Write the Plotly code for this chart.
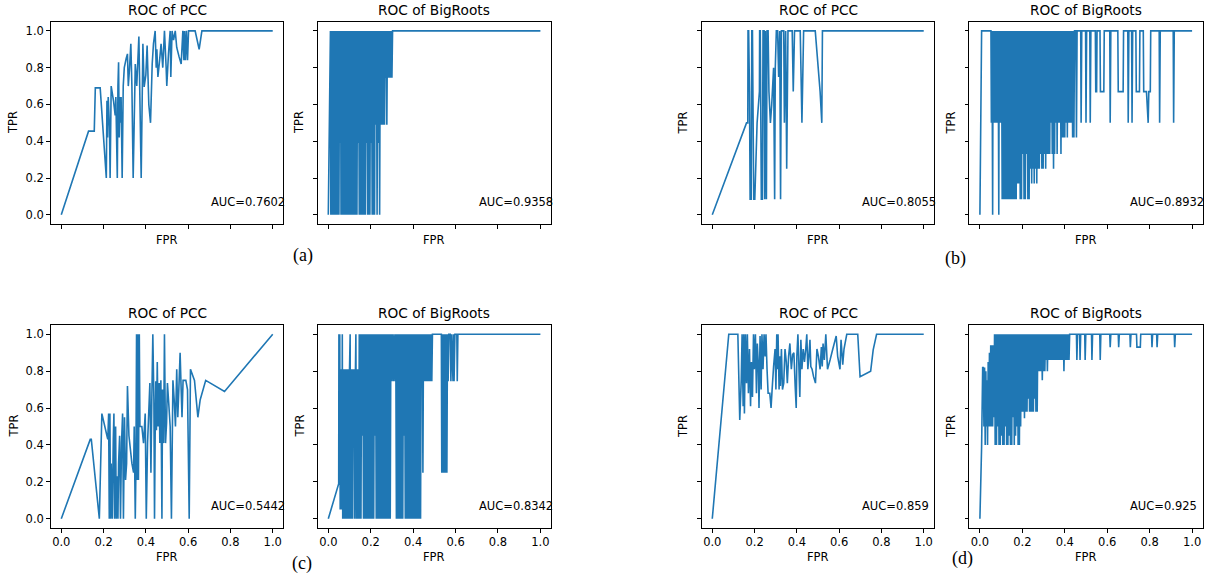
import plotly.graph_objects as go

# ---------------- text content ----------------
PANEL_TITLES = ["ROC of PCC", "ROC of BigRoots", "ROC of PCC", "ROC of BigRoots",
                "ROC of PCC", "ROC of BigRoots", "ROC of PCC", "ROC of BigRoots"]
AUC_LABELS = ["AUC=0.7602", "AUC=0.9358", "AUC=0.8055", "AUC=0.8932",
              "AUC=0.5442", "AUC=0.8342", "AUC=0.859", "AUC=0.925"]
PANEL_TAGS = ["(a)", "(b)", "(c)", "(d)"]
TICKS = [0.0, 0.2, 0.4, 0.6, 0.8, 1.0]

# ---------------- (a) ----------------
A_PCC_FPR = [0, 0.129, 0.156, 0.161, 0.184, 0.213, 0.216, 0.219, 0.222, 0.228,
             0.231, 0.236, 0.247, 0.255, 0.258, 0.265, 0.268, 0.271, 0.274, 0.277,
             0.280, 0.283, 0.288, 0.293, 0.298, 0.307, 0.313, 0.317, 0.323, 0.329,
             0.334, 0.340, 0.350, 0.357, 0.367, 0.378, 0.386, 0.392, 0.400, 0.406,
             0.414, 0.422, 0.430, 0.436, 0.444, 0.449, 0.452, 0.457, 0.465, 0.472,
             0.480, 0.488, 0.496, 0.499, 0.507, 0.515, 0.518, 0.524, 0.531, 0.539,
             0.546, 0.557, 0.567, 0.575, 0.580, 0.583, 0.587, 0.592, 0.597, 0.602,
             0.633, 0.652, 0.665, 1.0]
A_PCC_TPR = [0, 0.455, 0.455, 0.69, 0.69, 0.20, 0.62, 0.42, 0.64, 0.48,
             0.20, 0.70, 0.62, 0.54, 0.64, 0.20, 0.70, 0.83, 0.42, 0.64,
             0.50, 0.64, 0.20, 0.70, 0.80, 0.85, 0.875, 0.70, 0.80, 0.93,
             0.70, 0.20, 0.82, 0.70, 0.97, 0.20, 0.93, 0.695, 0.76, 0.92,
             0.60, 0.50, 0.82, 0.93, 1.0, 0.80, 0.90, 0.75, 0.84, 0.93,
             0.80, 1.0, 0.80, 0.70, 0.875, 1.0, 0.75, 1.0, 0.95, 1.0,
             0.91, 0.86, 0.82, 1.0, 0.84, 1.0, 0.84, 1.0, 0.84, 1.0,
             1.0, 0.90, 1.0, 1.0]

A_BR_FPR = [0, 0.010, 0.012, 0.015, 0.017, 0.021, 0.023, 0.026, 0.028, 0.031,
            0.034, 0.036, 0.039, 0.041, 0.045, 0.047, 0.050, 0.053, 0.055, 0.058,
            0.060, 0.063, 0.066, 0.068, 0.071, 0.074, 0.076, 0.079, 0.082, 0.084,
            0.087, 0.090, 0.092, 0.095, 0.098, 0.100, 0.103, 0.106, 0.108, 0.111,
            0.114, 0.116, 0.119, 0.122, 0.124, 0.127, 0.130, 0.132, 0.135, 0.138,
            0.141, 0.143, 0.146, 0.149, 0.152, 0.154, 0.157, 0.160, 0.163, 0.165,
            0.168, 0.171, 0.174, 0.177, 0.179, 0.182, 0.185, 0.188, 0.190, 0.193,
            0.196, 0.199, 0.201, 0.204, 0.207, 0.210, 0.212, 0.215, 0.218, 0.221,
            0.224, 0.227, 0.230, 0.233, 0.236, 0.239, 0.242, 0.245, 0.247, 0.250,
            0.253, 0.256, 0.259, 0.262, 0.265, 0.268, 0.270, 0.273, 0.276, 0.279,
            0.282, 0.285, 0.288, 0.291, 0.294, 0.297, 0.300, 0.303, 1.0]
A_BR_TPR = [0, 1, 0, 1, 0, 1, 0, 1, 0, 1,
            0, 1, 0, 1, 0, 1, 0, 1, 0.39, 1,
            0, 1, 0, 1, 0, 1, 0, 1, 0, 1,
            0, 1, 0, 1, 0, 1, 0, 1, 0, 1,
            0, 1, 0, 1, 0, 1, 0, 1, 0, 1,
            0.39, 1, 0, 1, 0, 1, 0, 1, 0, 1,
            0, 1, 0, 1, 0.39, 1, 0, 1, 0, 1,
            0, 1, 0.39, 1, 0, 1, 0, 1, 0, 1,
            0.49, 1, 0, 1, 0.39, 1, 0, 1, 0.49, 1,
            0.49, 1, 0.49, 1, 0.49, 1, 0.745, 1, 0.49, 1,
            0.745, 1, 0.745, 1, 0.745, 1, 0.745, 1, 1]

# ---------------- (b) ----------------
B_PCC_FPR = [0, 0.162, 0.168, 0.169, 0.172, 0.176, 0.179, 0.184, 0.187, 0.190,
             0.196, 0.201, 0.212, 0.223, 0.224, 0.227, 0.232, 0.237, 0.240, 0.245,
             0.248, 0.251, 0.256, 0.259, 0.264, 0.268, 0.275, 0.281, 0.290, 0.295,
             0.298, 0.303, 0.309, 0.314, 0.319, 0.323, 0.327, 0.338, 0.341, 0.347,
             0.352, 0.358, 0.378, 0.383, 0.389, 0.416, 0.424, 0.432, 0.487, 0.510,
             0.518, 0.521, 1.0]
B_PCC_TPR = [0, 0.50, 0.50, 1.0, 1.0, 0.67, 0.085, 0.085, 1.0, 1.0,
             0.085, 0.085, 0.50, 0.67, 1.0, 1.0, 0.085, 0.085, 1.0, 1.0,
             0.085, 1.0, 0.085, 1.0, 1.0, 0.67, 0.50, 0.596, 0.80, 0.085,
             0.80, 1.0, 1.0, 0.75, 1.0, 0.085, 1.0, 1.0, 0.50, 1.0,
             0.25, 1.0, 1.0, 0.67, 1.0, 1.0, 0.50, 1.0, 1.0, 0.67,
             0.50, 1.0, 1.0]

B_BR_FPR = [0, 0.008, 0.052, 0.054, 0.057, 0.060, 0.062, 0.065, 0.068, 0.071,
            0.074, 0.077, 0.080, 0.083, 0.086, 0.089, 0.091, 0.094, 0.097, 0.100,
            0.102, 0.105, 0.108, 0.111, 0.114, 0.117, 0.120, 0.123, 0.126, 0.129,
            0.132, 0.135, 0.138, 0.141, 0.144, 0.147, 0.150, 0.153, 0.156, 0.159,
            0.162, 0.165, 0.168, 0.171, 0.174, 0.178, 0.181, 0.184, 0.187, 0.190,
            0.193, 0.196, 0.199, 0.202, 0.205, 0.208, 0.211, 0.214, 0.217, 0.220,
            0.223, 0.226, 0.229, 0.232, 0.235, 0.238, 0.241, 0.244, 0.247, 0.250,
            0.253, 0.256, 0.259, 0.262, 0.265, 0.268, 0.271, 0.274, 0.277, 0.280,
            0.283, 0.286, 0.289, 0.292, 0.295, 0.298, 0.301, 0.304, 0.307, 0.310,
            0.313, 0.317, 0.320, 0.323, 0.326, 0.329, 0.332, 0.335, 0.338, 0.341,
            0.344, 0.347, 0.350, 0.352, 0.355, 0.358, 0.361, 0.364, 0.367, 0.370,
            0.373, 0.376, 0.379, 0.382, 0.385, 0.388, 0.391, 0.394, 0.397, 0.400,
            0.403, 0.406, 0.409, 0.412, 0.415, 0.418, 0.421, 0.424, 0.428, 0.431,
            0.434, 0.437, 0.440, 0.443, 0.446, 0.452, 0.455, 0.458, 0.475, 0.477,
            0.480, 0.498, 0.500, 0.503, 0.518, 0.520, 0.523, 0.544, 0.546, 0.550,
            0.552, 0.566, 0.568, 0.584, 0.586, 0.612, 0.614, 0.617, 0.650, 0.652,
            0.675, 0.677, 0.697, 0.699, 0.702, 0.715, 0.717, 0.720, 0.735, 0.737,
            0.752, 0.754, 0.770, 0.772, 0.785, 0.793, 0.796, 0.803, 0.805, 0.845,
            0.847, 0.850, 0.911, 0.913, 0.916, 1.0]
B_BR_TPR = [0, 1, 1, 0.5, 1, 0, 1, 0.5, 1, 0.5,
            1, 0.5, 1, 0.5, 1, 0, 1, 0.5, 1, 0.5,
            1, 0.085, 1, 0.085, 1, 0.085, 1, 0.085, 1, 0.085,
            1, 0.085, 1, 0.085, 1, 0.085, 1, 0.085, 1, 0.085,
            1, 0.085, 1, 0.085, 1, 0.17, 1, 0.17, 1, 0.085,
            1, 0.085, 1, 0.33, 1, 0.085, 1, 0.085, 1, 0.33,
            1, 0.085, 1, 0.085, 1, 0.25, 1, 0.17, 1, 0.25,
            1, 0.17, 1, 0.25, 1, 0.17, 1, 0.25, 1, 0.25,
            1, 0.33, 1, 0.25, 1, 0.25, 1, 0.33, 1, 0.25,
            1, 0.33, 1, 0.33, 1, 0.33, 1, 0.5, 1, 0.33,
            1, 0.25, 1, 0.33, 1, 0.5, 1, 0.33, 1, 0.5,
            1, 0.5, 1, 0.33, 1, 0.42, 1, 0.42, 1, 0.42,
            1, 0.5, 1, 0.42, 1, 0.5, 1, 0.5, 1, 0.5,
            1, 0.42, 1, 0.42, 1, 1, 0.42, 1, 1, 0.5,
            1, 1, 0.5, 1, 1, 0.5, 1, 1, 0.67, 0.67,
            1, 1, 0.67, 0.67, 1, 1, 0.5, 1, 1, 0.67,
            0.67, 1, 1, 0.5, 1, 1, 0.5, 1, 1, 0.67,
            0.67, 1, 1, 0.67, 0.67, 0.5, 0.67, 0.67, 1, 1,
            0.5, 1, 1, 0.5, 1, 1]

# ---------------- (c) ----------------
C_PCC_FPR = [0, 0.137, 0.142, 0.180, 0.192, 0.216, 0.220, 0.224, 0.227, 0.230,
             0.233, 0.236, 0.241, 0.246, 0.249, 0.252, 0.257, 0.260, 0.263, 0.268,
             0.271, 0.276, 0.280, 0.285, 0.290, 0.294, 0.299, 0.304, 0.309, 0.313,
             0.320, 0.334, 0.342, 0.345, 0.350, 0.353, 0.356, 0.359, 0.362, 0.365,
             0.369, 0.372, 0.381, 0.389, 0.397, 0.402, 0.408, 0.416, 0.419, 0.424,
             0.428, 0.433, 0.438, 0.441, 0.444, 0.447, 0.450, 0.454, 0.458, 0.463,
             0.466, 0.471, 0.476, 0.479, 0.484, 0.488, 0.493, 0.498, 0.502, 0.508,
             0.515, 0.521, 0.528, 0.534, 0.540, 0.546, 0.551, 0.556, 0.562, 0.567,
             0.571, 0.576, 0.589, 0.597, 0.605, 0.611, 0.630, 0.646, 0.657, 0.683,
             0.772, 1.0]
C_PCC_TPR = [0, 0.43, 0.43, 0.0, 0.57, 0.45, 0.43, 0.57, 0.0, 0.57,
             0.0, 0.30, 0.0, 0.43, 0.57, 0.0, 0.50, 0.0, 0.23, 0.0,
             0.30, 0.45, 0.0, 0.41, 0.57, 0.0, 0.55, 0.21, 0.30, 0.72,
             0.45, 0.30, 0.25, 0.50, 0.0, 0.27, 1.0, 0.21, 1.0, 0.21,
             1.0, 0.50, 0.50, 0.41, 0.57, 0.0, 0.41, 0.645, 0.735, 0.25,
             0.63, 1.0, 0.645, 0.0, 0.45, 0.745, 0.48, 0.85, 0.50, 0.735,
             0.41, 0.75, 0.0, 0.70, 0.41, 1.0, 0.41, 0.52, 0.735, 0.63,
             0.50, 0.0, 0.75, 0.645, 0.50, 0.81, 0.55, 0.70, 0.90, 0.70,
             0.55, 0.75, 0.75, 0.70, 0.0, 0.81, 0.75, 0.55, 0.645, 0.75,
             0.69, 1.0]

C_BR_FPR = [0, 0.049, 0.050, 0.052, 0.054, 0.056, 0.058, 0.060, 0.062, 0.064,
            0.066, 0.068, 0.070, 0.073, 0.075, 0.078, 0.080, 0.083, 0.085, 0.088,
            0.090, 0.093, 0.095, 0.098, 0.100, 0.103, 0.105, 0.108, 0.110, 0.113,
            0.115, 0.118, 0.120, 0.123, 0.125, 0.128, 0.130, 0.133, 0.135, 0.138,
            0.140, 0.143, 0.146, 0.148, 0.151, 0.154, 0.157, 0.160, 0.163, 0.166,
            0.169, 0.172, 0.175, 0.178, 0.181, 0.184, 0.187, 0.190, 0.193, 0.196,
            0.199, 0.202, 0.205, 0.208, 0.211, 0.214, 0.217, 0.220, 0.223, 0.226,
            0.229, 0.232, 0.235, 0.238, 0.241, 0.244, 0.247, 0.250, 0.253, 0.256,
            0.259, 0.262, 0.265, 0.268, 0.271, 0.274, 0.277, 0.280, 0.283, 0.286,
            0.289, 0.292, 0.295, 0.298, 0.302, 0.306, 0.310, 0.314, 0.318, 0.321,
            0.324, 0.327, 0.330, 0.333, 0.336, 0.339, 0.342, 0.345, 0.348, 0.351,
            0.354, 0.357, 0.360, 0.363, 0.366, 0.369, 0.372, 0.375, 0.378, 0.381,
            0.384, 0.387, 0.390, 0.393, 0.396, 0.399, 0.402, 0.405, 0.408, 0.411,
            0.414, 0.417, 0.420, 0.423, 0.426, 0.429, 0.432, 0.435, 0.438, 0.441,
            0.444, 0.446, 0.449, 0.452, 0.455, 0.458, 0.461, 0.464, 0.467, 0.470,
            0.473, 0.476, 0.479, 0.482, 0.485, 0.488, 0.491, 0.533, 0.535, 0.538,
            0.541, 0.544, 0.547, 0.550, 0.553, 0.556, 0.559, 0.562, 0.565, 0.568,
            0.575, 0.578, 0.581, 0.588, 0.590, 0.593, 0.597, 0.606, 0.608, 0.611,
            1.0]
C_BR_TPR = [0, 0.19, 1, 0.19, 1, 0.05, 0.81, 0.05, 0.81, 0.05,
            1, 0, 0.81, 0, 0.81, 0, 0.81, 0, 0.81, 0,
            0.81, 0, 0.81, 0, 0.81, 1, 0, 0.81, 0, 0.81,
            0, 0.81, 0.45, 0.81, 0, 0.81, 1, 0, 0.81, 0,
            0.81, 0, 1, 0, 1, 0, 1, 0.45, 1, 0,
            1, 0, 1, 0, 1, 0, 1, 0, 1, 0,
            1, 0, 1, 0, 1, 0, 1, 0.45, 1, 0,
            1, 0, 1, 0, 1, 0, 1, 0, 1, 0,
            1, 0, 1, 0, 1, 0, 1, 0, 1, 0,
            1, 0, 1, 0.745, 1, 0.745, 1, 0.745, 1, 0,
            1, 0, 1, 0, 1, 0, 1, 0, 1, 0,
            1, 0.45, 1, 0, 1, 0, 1, 0, 1, 0,
            1, 0, 1, 0, 1, 0, 1, 0, 1, 0,
            1, 0, 1, 0, 1, 0, 1, 0, 1, 0.745,
            1, 0.25, 1, 0.745, 1, 0.745, 1, 0.745, 1, 0.745,
            1, 0.745, 1, 0.745, 1, 0.745, 1, 1, 0.25, 1,
            0.25, 1, 0.25, 1, 0.25, 1, 0.25, 1, 0.745, 1,
            1, 0.745, 1, 0.745, 1, 0.745, 1, 1, 0.745, 1,
            1]

# ---------------- (d) ----------------
D_PCC_FPR = [0, 0.078, 0.121, 0.130, 0.137, 0.141, 0.146, 0.149, 0.152, 0.157,
             0.162, 0.166, 0.171, 0.176, 0.181, 0.185, 0.190, 0.195, 0.199, 0.204,
             0.209, 0.213, 0.218, 0.221, 0.226, 0.231, 0.235, 0.240, 0.245, 0.250,
             0.254, 0.259, 0.264, 0.272, 0.278, 0.283, 0.290, 0.297, 0.301, 0.305,
             0.308, 0.311, 0.316, 0.319, 0.322, 0.327, 0.332, 0.338, 0.344, 0.350,
             0.355, 0.361, 0.367, 0.374, 0.380, 0.386, 0.392, 0.397, 0.400, 0.405,
             0.409, 0.414, 0.419, 0.424, 0.430, 0.436, 0.442, 0.447, 0.452, 0.457,
             0.462, 0.466, 0.472, 0.479, 0.488, 0.495, 0.502, 0.510, 0.516, 0.520,
             0.524, 0.530, 0.537, 0.545, 0.557, 0.570, 0.586, 0.593, 0.604, 0.609,
             0.617, 0.623, 0.636, 0.688, 0.699, 0.749, 0.761, 0.777, 1.0]
D_PCC_TPR = [0, 1.0, 1.0, 0.536, 0.75, 1.0, 0.61, 1.0, 0.57, 1.0,
             0.735, 1.0, 0.68, 0.92, 0.61, 0.85, 0.66, 1.0, 0.81, 1.0,
             0.68, 0.95, 0.825, 0.60, 0.99, 0.70, 1.0, 0.81, 1.0, 0.88,
             1.0, 0.81, 0.68, 0.68, 0.60, 0.70, 0.825, 0.92, 0.70, 1.0,
             0.81, 1.0, 0.70, 0.88, 0.72, 0.92, 0.70, 0.735, 0.92, 0.85,
             0.735, 0.88, 0.95, 0.81, 0.89, 0.90, 0.72, 0.60, 0.88, 1.0,
             0.85, 0.66, 0.97, 0.81, 0.92, 0.85, 0.92, 1.0, 0.81, 0.88,
             0.97, 0.825, 0.81, 0.77, 0.735, 0.92, 0.88, 0.81, 0.93, 0.825,
             0.95, 0.86, 1.0, 0.81, 0.86, 0.92, 0.99, 0.88, 0.81, 0.97,
             0.835, 0.92, 1.0, 1.0, 0.77, 0.80, 0.915, 1.0, 1.0]

D_BR_FPR = [0, 0.008, 0.013, 0.016, 0.019, 0.022, 0.025, 0.028, 0.031, 0.034,
            0.036, 0.039, 0.042, 0.045, 0.048, 0.051, 0.054, 0.057, 0.060, 0.063,
            0.066, 0.069, 0.072, 0.075, 0.078, 0.081, 0.084, 0.087, 0.090, 0.093,
            0.096, 0.099, 0.102, 0.105, 0.108, 0.111, 0.114, 0.117, 0.120, 0.123,
            0.126, 0.129, 0.132, 0.135, 0.138, 0.141, 0.144, 0.147, 0.150, 0.153,
            0.156, 0.159, 0.162, 0.165, 0.168, 0.171, 0.174, 0.177, 0.180, 0.183,
            0.186, 0.189, 0.192, 0.195, 0.198, 0.201, 0.204, 0.207, 0.210, 0.213,
            0.216, 0.219, 0.222, 0.225, 0.228, 0.231, 0.234, 0.237, 0.240, 0.243,
            0.246, 0.249, 0.252, 0.255, 0.258, 0.261, 0.264, 0.267, 0.270, 0.273,
            0.276, 0.279, 0.282, 0.285, 0.288, 0.291, 0.294, 0.297, 0.300, 0.303,
            0.306, 0.309, 0.312, 0.315, 0.318, 0.321, 0.324, 0.327, 0.330, 0.333,
            0.336, 0.339, 0.342, 0.345, 0.348, 0.351, 0.354, 0.357, 0.360, 0.363,
            0.366, 0.369, 0.372, 0.375, 0.378, 0.381, 0.384, 0.387, 0.390, 0.393,
            0.396, 0.399, 0.402, 0.405, 0.408, 0.411, 0.414, 0.417, 0.420, 0.423,
            0.455, 0.457, 0.460, 0.470, 0.472, 0.475, 0.494, 0.496, 0.499, 0.526,
            0.528, 0.531, 0.565, 0.567, 0.570, 0.612, 0.614, 0.617, 0.652, 0.654,
            0.657, 0.707, 0.709, 0.712, 0.738, 0.740, 0.756, 0.758, 0.809, 0.811,
            0.814, 0.833, 0.835, 0.838, 0.916, 0.918, 0.921, 1.0]
D_BR_TPR = [0, 0.39, 0.82, 0.82, 0.50, 0.82, 0.40, 0.80, 0.50, 0.75,
            0.40, 0.85, 0.50, 0.90, 0.50, 0.94, 0.50, 0.94, 0.50, 0.94,
            0.55, 1, 0.40, 1, 0.40, 1, 0.50, 1, 0.40, 1,
            0.40, 1, 0.45, 1, 0.40, 1, 0.40, 1, 0.50, 1,
            0.40, 1, 0.40, 1, 0.45, 1, 0.40, 1, 0.40, 1,
            0.55, 1, 0.40, 1, 0.45, 1, 0.50, 1, 0.40, 1,
            0.40, 1, 0.50, 1, 0.58, 1, 0.58, 1, 0.545, 1,
            0.58, 1, 0.58, 1, 0.65, 1, 0.58, 1, 0.58, 1,
            0.58, 1, 0.58, 1, 0.65, 1, 0.58, 1, 0.58, 1,
            0.80, 1, 0.80, 1, 0.80, 1, 0.75, 1, 0.80, 1,
            0.80, 1, 0.86, 1, 0.80, 1, 0.86, 1, 0.86, 1,
            0.86, 1, 0.86, 1, 0.86, 1, 0.86, 1, 0.86, 1,
            0.86, 1, 0.86, 1, 0.86, 1, 0.86, 1, 0.86, 1,
            0.80, 1, 0.86, 1, 0.86, 1, 0.86, 1, 0.86, 1,
            1, 0.86, 1, 1, 0.86, 1, 1, 0.86, 1, 1,
            0.86, 1, 1, 0.86, 1, 1, 0.93, 1, 1, 0.93,
            1, 1, 0.93, 1, 1, 0.93, 0.93, 1, 1, 0.93,
            1, 1, 0.93, 1, 1, 0.93, 1, 1]

SERIES = [(A_PCC_FPR, A_PCC_TPR), (A_BR_FPR, A_BR_TPR),
          (B_PCC_FPR, B_PCC_TPR), (B_BR_FPR, B_BR_TPR),
          (C_PCC_FPR, C_PCC_TPR), (C_BR_FPR, C_BR_TPR),
          (D_PCC_FPR, D_PCC_TPR), (D_BR_FPR, D_BR_TPR)]

# ---------------- layout geometry ----------------
W, H = 1205, 578
X_DOMAINS = [[50.7 / W, 283.3 / W], [317.7 / W, 551.0 / W],
             [701.7 / W, 934.3 / W], [969.3 / W, 1202.7 / W]]
Y_DOMAINS = [[1 - 224.0 / H, 1 - 21.7 / H], [1 - 528.0 / H, 1 - 325.0 / H]]
TITLE_Y = [1 - 10.0 / H, 1 - 313.3 / H]
FPR_Y = [1 - 240.0 / H, 1 - 556.7 / H]
TPR_X = [13.0 / W, 299.0 / W, 682.5 / W, 950.5 / W]
TPR_Y = [1 - 123.0 / H, 1 - 426.5 / H]
TAG_POS = [(302.5 / W, 1 - 255.0 / H), (955.0 / W, 1 - 258.0 / H),
           (302.0 / W, 1 - 563.0 / H), (962.0 / W, 1 - 558.0 / H)]

BLUE = "#1f77b4"
FONT = "DejaVu Sans"

fig = go.Figure()
layout = dict(width=W, height=H, margin=dict(l=0, r=0, t=0, b=0),
              paper_bgcolor="white", plot_bgcolor="white", showlegend=False,
              font=dict(family=FONT, color="black"))
annotations = []

for i in range(8):
    row, col = i // 4, i % 4
    sfx = "" if i == 0 else str(i + 1)
    xs, ys = SERIES[i]
    fig.add_trace(go.Scatter(x=xs, y=ys, mode="lines",
                             line=dict(color=BLUE, width=1.6, simplify=False),
                             xaxis="x" + sfx, yaxis="y" + sfx, hoverinfo="skip"))
    common = dict(range=[-0.05, 1.05], showgrid=False, zeroline=False,
                  showline=True, mirror=True, linecolor="black", linewidth=1,
                  ticks="outside", ticklen=3.5, tickwidth=1, tickcolor="black",
                  tickvals=TICKS, ticktext=[f"{t:.1f}" for t in TICKS],
                  tickfont=dict(family=FONT, size=11.5, color="black"))
    layout["xaxis" + sfx] = dict(common, domain=X_DOMAINS[col],
                                 anchor="y" + sfx, showticklabels=(row == 1))
    layout["yaxis" + sfx] = dict(common, domain=Y_DOMAINS[row],
                                 anchor="x" + sfx, showticklabels=(col == 0))
    xc = (X_DOMAINS[col][0] + X_DOMAINS[col][1]) / 2
    annotations.append(dict(text=PANEL_TITLES[i], x=xc, y=TITLE_Y[row],
                            xref="paper", yref="paper", showarrow=False,
                            xanchor="center", yanchor="middle",
                            font=dict(family=FONT, size=13.7, color="black")))
    annotations.append(dict(text="FPR", x=xc, y=FPR_Y[row],
                            xref="paper", yref="paper", showarrow=False,
                            xanchor="center", yanchor="middle",
                            font=dict(family=FONT, size=11.5, color="black")))
    annotations.append(dict(text="TPR", x=TPR_X[col], y=TPR_Y[row],
                            xref="paper", yref="paper", showarrow=False,
                            textangle=-90, xanchor="center", yanchor="middle",
                            font=dict(family=FONT, size=11.5, color="black")))
    annotations.append(dict(text=AUC_LABELS[i], x=0.7, y=0.07,
                            xref="x" + sfx, yref="y" + sfx, showarrow=False,
                            xanchor="left", yanchor="middle",
                            font=dict(family=FONT, size=11.5, color="black")))

for tag, (tx, ty) in zip(PANEL_TAGS, TAG_POS):
    annotations.append(dict(text=tag, x=tx, y=ty, xref="paper", yref="paper",
                            showarrow=False, xanchor="center", yanchor="middle",
                            font=dict(family="Liberation Serif", size=18,
                                      color="black")))

layout["annotations"] = annotations
fig.update_layout(**layout)
fig.write_html("out.html",
               config={"displayModeBar": False},
               post_script="document.body.style.margin='0';"
                           "document.body.style.overflow='hidden';")
